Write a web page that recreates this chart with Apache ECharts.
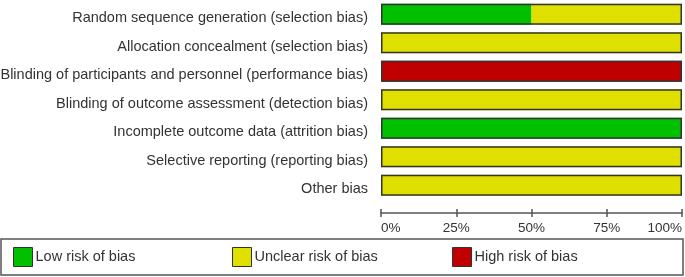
<!DOCTYPE html>
<html>
<head>
<meta charset="utf-8">
<script src="https://cdn.jsdelivr.net/npm/echarts@6/dist/echarts.min.js"></script>
<style>html,body{margin:0;padding:0;background:#fff}#c{width:685px;height:277px}</style>
</head>
<body>
<div id="c"></div>
<script>
const domains = [
  'Random sequence generation (selection bias)',
  'Allocation concealment (selection bias)',
  'Blinding of participants and personnel (performance bias)',
  'Blinding of outcome assessment (detection bias)',
  'Incomplete outcome data (attrition bias)',
  'Selective reporting (reporting bias)',
  'Other bias'
];
const lowRisk = [50, 0, 0, 0, 100, 0, 0];
const unclearRisk = [50, 100, 0, 100, 0, 100, 100];
const highRisk = [0, 0, 100, 0, 0, 0, 0];
const xTicks = [0, 25, 50, 75, 100];
const seriesNames = ['Low risk of bias', 'Unclear risk of bias', 'High risk of bias'];
const seriesColors = ['#00c000', '#e0e000', '#c00000'];

const totals = domains.map((_, i) => lowRisk[i] + unclearRisk[i] + highRisk[i]);
const FONT = 'Liberation Sans, Arial, sans-serif';
const chart = echarts.init(document.getElementById('c'), null, {renderer: 'canvas'});
const BW = 21;

const valueSets = [lowRisk, unclearRisk, highRisk];
const series = seriesNames.map((n, k) => ({
  name: n, type: 'bar', stack: 'risk', barWidth: BW,
  data: valueSets[k], itemStyle: {color: seriesColors[k]},
  silent: true, z: 2
}));
series.push({
  name: 'outline', type: 'bar', barWidth: BW, barGap: '-100%',
  data: totals, itemStyle: {color: 'rgba(0,0,0,0)', borderColor: '#333', borderWidth: 1.5},
  silent: true, z: 3
});

const legendLefts = [13, 232, 452];
chart.setOption({
  animation: false,
  grid: {left: 381, width: 301, top: 0, height: 199.5, containLabel: false, outerBoundsMode: 'none'},
  xAxis: [{
    type: 'value', min: xTicks[0], max: xTicks[xTicks.length - 1], interval: xTicks[1] - xTicks[0],
    position: 'bottom', offset: 13.5,
    axisLine: {show: true, lineStyle: {color: '#555', width: 1.5}},
    axisTick: {show: true, length: 4, lineStyle: {color: '#555', width: 1.5}},
    axisLabel: {formatter: '{value}%', color: '#333', fontSize: 13.5, fontFamily: FONT, margin: 8,
      alignMinLabel: 'left', alignMaxLabel: 'right'},
    splitLine: {show: false}
  }, {
    type: 'value', min: xTicks[0], max: xTicks[xTicks.length - 1], interval: xTicks[1] - xTicks[0],
    position: 'bottom', offset: 13.5,
    axisLine: {show: false},
    axisTick: {show: true, inside: true, length: 4, lineStyle: {color: '#555', width: 1.5}},
    axisLabel: {show: false},
    splitLine: {show: false}
  }],
  yAxis: {
    type: 'category', data: domains, inverse: true,
    axisLine: {show: false}, axisTick: {show: false},
    axisLabel: {
      margin: 13, formatter: '{t|{value}}',
      rich: {t: {color: '#333', fontSize: 14.5, fontFamily: FONT, padding: [8, 0, 0, 0]}}
    }
  },
  legend: seriesNames.map((n, k) => ({
    data: [n], left: legendLefts[k], top: 247, padding: 0, icon: 'rect',
    itemWidth: 19, itemHeight: 19, itemGap: 3,
    itemStyle: {borderColor: '#333', borderWidth: 1},
    textStyle: {color: '#333', fontSize: 14.5, fontFamily: FONT, padding: [0, 0, 0, -2]},
    selectedMode: false
  })),
  graphic: [{
    type: 'rect', shape: {x: 1, y: 239, width: 682, height: 36},
    style: {fill: 'none', stroke: '#555', lineWidth: 1.5}, silent: true
  }],
  series: series
});
</script>
</body>
</html>
